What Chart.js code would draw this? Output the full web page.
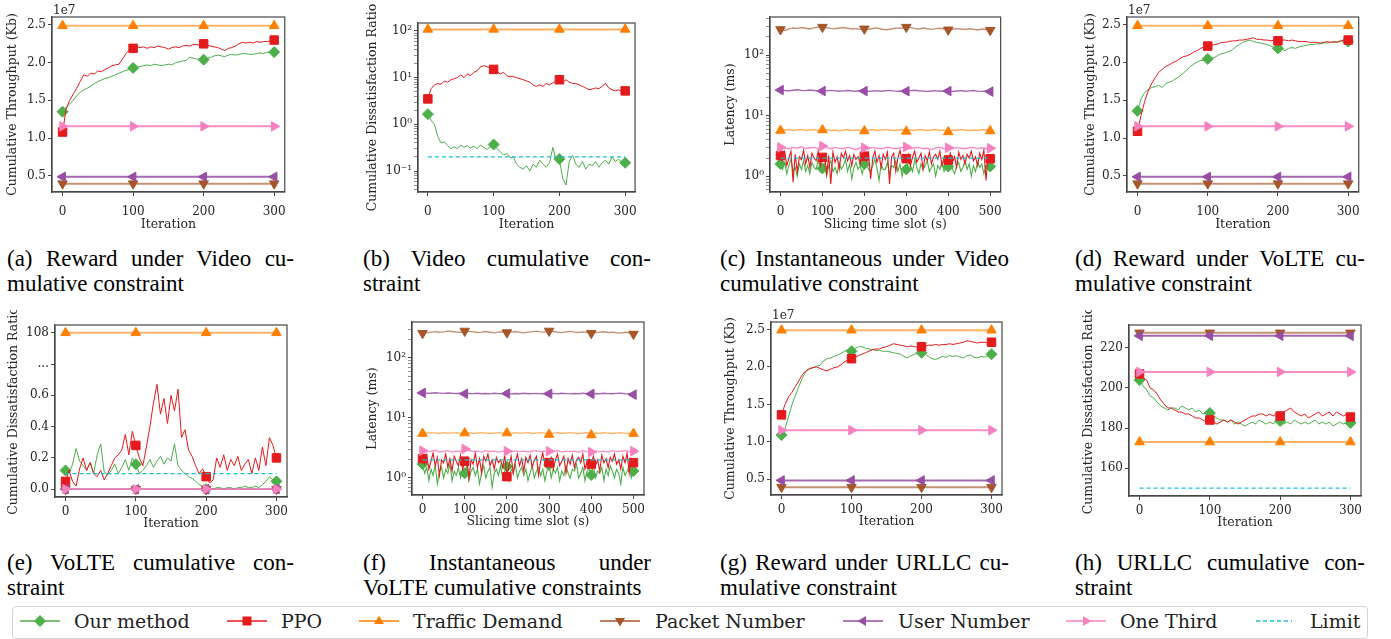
<!DOCTYPE html>
<html><head><meta charset="utf-8">
<script src="https://cdn.jsdelivr.net/npm/chart.js@4.4.1/dist/chart.umd.min.js"></script>
<style>
html,body{margin:0;padding:0;background:#fff;}
body{position:relative;width:1391px;height:639px;overflow:hidden;}
canvas{position:absolute;}
.cap{position:absolute;font-family:"Liberation Serif","Times New Roman",serif;font-size:23px;line-height:25px;color:#000;white-space:nowrap;}
.j{text-align:justify;text-align-last:justify;}
#legendBox{position:absolute;left:12px;top:606px;width:1356px;height:33px;border:1px solid #d3d3d3;border-radius:4px;box-sizing:border-box;background:#fff;}
.lg{position:absolute;top:610px;font-family:"DejaVu Serif",serif;font-size:19px;line-height:22px;color:#222;white-space:nowrap;}
.ls{position:absolute;top:611px;}
</style></head>
<body>
<div class="cap j" style="left:7px;top:246px;width:287px">(a) Reward under Video cu-</div>
<div class="cap" style="left:7px;top:271px">mulative constraint</div>
<div class="cap j" style="left:363px;top:246px;width:288px">(b) Video cumulative con-</div>
<div class="cap" style="left:363px;top:271px">straint</div>
<div class="cap j" style="left:720px;top:246px;width:289px">(c) Instantaneous under Video</div>
<div class="cap" style="left:720px;top:271px">cumulative constraint</div>
<div class="cap j" style="left:1075px;top:246px;width:290px">(d) Reward under VoLTE cu-</div>
<div class="cap" style="left:1075px;top:271px">mulative constraint</div>

<div class="cap j" style="left:7px;top:550px;width:287px">(e) VoLTE cumulative con-</div>
<div class="cap" style="left:7px;top:575px">straint</div>
<div class="cap j" style="left:363px;top:550px;width:288px">(f) Instantaneous under</div>
<div class="cap" style="left:363px;top:575px">VoLTE cumulative constraints</div>
<div class="cap j" style="left:720px;top:550px;width:289px">(g) Reward under URLLC cu-</div>
<div class="cap" style="left:720px;top:575px">mulative constraint</div>
<div class="cap j" style="left:1075px;top:550px;width:290px">(h) URLLC cumulative con-</div>
<div class="cap" style="left:1075px;top:575px">straint</div>

<div id="legendBox"></div>
<svg class="ls" style="left:20px" width="40" height="20"><line x1="0" y1="10" x2="40" y2="10" stroke="#4daf4a" stroke-width="1.6"/><polygon points="20,4 26,10 20,16 14,10" fill="#4daf4a"/></svg>
<div class="lg" style="left:74px">Our method</div>
<svg class="ls" style="left:227px" width="40" height="20"><line x1="0" y1="10" x2="40" y2="10" stroke="#e41a1c" stroke-width="1.6"/><rect x="15.5" y="5.5" width="9" height="9" fill="#e41a1c"/></svg>
<div class="lg" style="left:281px">PPO</div>
<svg class="ls" style="left:359px" width="40" height="20"><line x1="0" y1="10" x2="40" y2="10" stroke="#ff7f00" stroke-width="1.6"/><polygon points="20,4.5 25,13 15,13" fill="#ff7f00"/></svg>
<div class="lg" style="left:413px">Traffic Demand</div>
<svg class="ls" style="left:600px" width="40" height="20"><line x1="0" y1="10" x2="40" y2="10" stroke="#a65628" stroke-width="1.6"/><polygon points="20,15.5 25,7 15,7" fill="#a65628"/></svg>
<div class="lg" style="left:655px">Packet Number</div>
<svg class="ls" style="left:843px" width="40" height="20"><line x1="0" y1="10" x2="40" y2="10" stroke="#984ea3" stroke-width="1.6"/><polygon points="14.5,10 23,5 23,15" fill="#984ea3"/></svg>
<div class="lg" style="left:898px">User Number</div>
<svg class="ls" style="left:1066px" width="40" height="20"><line x1="0" y1="10" x2="40" y2="10" stroke="#f781bf" stroke-width="1.6"/><polygon points="25.5,10 17,5 17,15" fill="#f781bf"/></svg>
<div class="lg" style="left:1120px">One Third</div>
<svg class="ls" style="left:1256px" width="40" height="20"><line x1="0" y1="10" x2="36" y2="10" stroke="#17becf" stroke-width="1.5" stroke-dasharray="4,3"/></svg>
<div class="lg" style="left:1310px">Limit</div>

<script>
// ---------------- DATA ----------------
const iterX = [
0,5,10,15,20,25,30,35,40,45,
50,55,60,65,70,75,80,85,90,95,
100,105,110,115,120,125,130,135,140,145,
150,155,160,165,170,175,180,185,190,195,
200,205,210,215,220,225,230,235,240,245,
250,255,260,265,270,275,280,285,290,295,
300];
const markX = [0,100,200,300];
const slotFineX = [
0,5,10,15,20,25,30,35,40,45,
50,55,60,65,70,75,80,85,90,95,
100,105,110,115,120,125,130,135,140,145,
150,155,160,165,170,175,180,185,190,195,
200,205,210,215,220,225,230,235,240,245,
250,255,260,265,270,275,280,285,290,295,
300,305,310,315,320,325,330,335,340,345,
350,355,360,365,370,375,380,385,390,395,
400,405,410,415,420,425,430,435,440,445,
450,455,460,465,470,475,480,485,490,495,
500];
const slotCoarseX = [
0,10,20,30,40,50,60,70,80,90,
100,110,120,130,140,150,160,170,180,190,
200,210,220,230,240,250,260,270,280,290,
300,310,320,330,340,350,360,370,380,390,
400,410,420,430,440,450,460,470,480,490,
500];
const limitSlotX = [0,500];

// (a) Reward under Video constraint (x1e7 Kb)
const aOurs = [
1.35,1.41,1.45,1.50,1.56,1.61,1.64,1.66,1.69,1.72,
1.75,1.77,1.79,1.80,1.82,1.84,1.86,1.88,1.90,1.91,
1.93,1.94,1.95,1.96,1.97,1.96,1.98,1.97,1.96,1.97,
1.98,1.97,2.00,2.01,2.02,2.03,2.07,2.06,2.05,2.04,
2.04,2.06,2.07,2.09,2.10,2.09,2.08,2.10,2.11,2.10,
2.11,2.12,2.12,2.11,2.11,2.12,2.13,2.12,2.14,2.13,
2.14];
const aPPO = [
1.08,1.38,1.50,1.58,1.66,1.75,1.84,1.82,1.86,1.85,
1.89,1.88,1.91,1.93,1.96,1.97,1.98,2.05,2.12,2.17,
2.19,2.21,2.20,2.21,2.19,2.21,2.20,2.22,2.21,2.20,
2.18,2.20,2.21,2.20,2.22,2.23,2.22,2.24,2.24,2.23,
2.25,2.23,2.22,2.21,2.20,2.18,2.16,2.19,2.20,2.22,
2.25,2.27,2.26,2.27,2.26,2.28,2.27,2.28,2.28,2.29,
2.30];
const thrTraffic = [2.49,2.49,2.49,2.49];
const thrPacket  = [0.395,0.395,0.395,0.395];
const thrUser    = [0.485,0.485,0.485,0.485];
const thrThird   = [1.155,1.155,1.155,1.155];

// (b) Video cumulative dissatisfaction ratio (log)
const bOurs = [
1.65,1.20,1.00,0.55,0.40,0.42,0.35,0.30,0.33,0.30,
0.36,0.32,0.35,0.31,0.34,0.30,0.36,0.32,0.29,0.33,
0.37,0.30,0.26,0.22,0.24,0.19,0.20,0.14,0.12,0.11,
0.13,0.10,0.14,0.12,0.17,0.14,0.12,0.15,0.32,0.17,
0.18,0.07,0.05,0.16,0.22,0.14,0.12,0.16,0.11,0.14,
0.13,0.16,0.12,0.15,0.17,0.14,0.20,0.16,0.18,0.15,
0.15];
const bPPO = [
3.5,5.8,7.0,7.5,7.2,8.5,8.0,9.0,9.5,10.0,
11.5,10.0,12.0,11.0,13.0,14.0,17.0,18.0,17.0,16.5,
15.0,13.5,12.0,13.0,11.0,10.5,10.5,10.0,9.5,9.0,
8.5,8.0,7.0,6.5,7.0,6.5,7.5,7.0,7.8,8.5,
9.0,8.0,9.0,8.0,7.5,7.5,7.0,6.5,6.0,5.5,
5.7,6.0,5.8,6.5,7.5,6.0,5.5,5.2,5.5,5.0,
5.2];
const bTraffic = [108,108,108,108];
const bLimit = [0.2,0.2,0.2,0.2];

// (c) Instantaneous latency under Video constraint (ms)
const cOurs = [
1.60,1.30,1.70,1.10,1.50,1.90,1.20,1.40,1.00,1.60,
1.30,1.80,1.20,1.50,1.10,1.70,1.40,1.30,1.90,1.20,
1.35,1.60,1.00,1.50,1.80,1.20,1.40,1.10,1.70,1.30,
1.50,1.90,1.20,1.60,0.90,1.40,1.70,1.30,1.50,1.10,
1.60,1.80,1.30,1.20,1.50,1.90,1.40,0.85,1.60,1.30,
1.30,1.70,1.10,1.50,1.40,1.80,1.20,1.60,1.00,1.40,
1.30,1.70,1.50,1.20,1.90,1.40,1.10,1.60,1.30,1.50,
1.80,1.20,1.40,1.60,1.00,1.50,1.30,1.70,1.20,1.60,
1.45,1.90,1.30,1.10,1.50,1.70,1.20,1.40,1.80,1.30,
1.60,1.00,1.50,1.20,1.70,1.40,1.60,1.10,1.50,1.30,
1.45];
const cPPO = [
2.20,1.80,2.50,1.50,2.00,2.60,0.80,2.30,1.20,2.10,
1.90,2.70,1.60,2.20,1.40,2.40,2.00,1.80,2.60,1.50,
2.05,2.30,1.10,2.20,0.75,2.50,1.70,2.10,1.30,2.40,
2.00,2.60,1.80,2.20,1.50,2.30,1.90,2.10,1.60,2.50,
2.15,1.80,2.40,0.90,2.00,2.60,1.70,2.20,1.40,2.30,
1.90,2.50,0.75,2.10,2.40,1.20,2.00,2.70,1.80,2.20,
1.95,2.30,1.50,2.10,2.60,1.70,2.00,2.40,1.30,2.20,
1.80,2.50,1.60,2.10,2.30,1.90,2.60,1.50,2.00,2.20,
1.85,2.40,1.70,2.10,1.40,2.50,1.90,2.20,1.60,2.30,
2.00,2.60,1.80,2.10,1.50,2.40,1.90,2.70,0.85,2.20,
1.95];
const cPacket = [
265,255,272,280,276,285,278,270,282,288,
290,283,276,272,280,285,278,270,274,268,
272,266,275,280,270,262,268,275,282,278,
290,284,276,270,280,272,266,274,278,270,
262,268,274,270,265,272,268,260,270,265,
258];
const cUser = [
26.5,26.0,25.8,26.3,26.8,26.2,25.9,26.5,26.1,25.7,
25.5,25.8,26.2,25.9,25.4,25.7,26.0,25.6,25.3,25.8,
25.5,25.2,25.6,25.9,25.4,25.8,26.2,25.7,25.3,25.6,
25.4,25.9,26.3,25.8,25.5,25.2,25.6,25.9,25.3,25.7,
25.5,25.1,25.6,25.9,25.4,25.7,26.0,25.5,25.2,25.6,
25.0];
const cTraffic = [
5.7,5.8,5.9,5.7,5.8,5.9,5.7,5.8,5.9,5.7,
5.8,5.9,5.7,5.8,5.6,5.8,5.9,5.7,5.8,5.7,
5.6,5.8,5.9,5.7,5.8,5.9,5.8,5.7,5.8,5.9,
5.5,5.8,5.7,5.9,5.8,5.7,5.8,5.9,5.7,5.8,
5.4,5.8,5.7,5.9,5.8,5.7,5.8,5.7,5.9,5.8,
5.6];
const cThird = [
3.0,2.9,2.85,3.0,2.9,3.1,2.85,2.95,3.0,2.85,
3.15,2.95,2.85,3.0,2.9,2.85,3.0,2.9,2.75,2.95,
2.95,2.85,3.0,2.9,2.85,2.95,3.0,2.85,2.9,3.0,
3.05,2.85,2.95,3.0,2.85,2.9,2.75,2.95,3.0,2.85,
2.95,2.85,3.0,2.9,2.85,2.95,3.0,2.85,2.95,2.85,
2.9];
const latLimit = [2.0,2.0];

// (d) Reward under VoLTE constraint (x1e7 Kb)
const dOurs = [
1.36,1.52,1.60,1.64,1.67,1.68,1.70,1.67,1.72,1.74,
1.76,1.79,1.82,1.86,1.90,1.95,1.98,2.01,2.03,2.03,
2.05,2.06,2.07,2.10,2.12,2.13,2.15,2.17,2.21,2.24,
2.27,2.29,2.30,2.28,2.27,2.26,2.25,2.24,2.22,2.20,
2.19,2.18,2.16,2.19,2.20,2.19,2.21,2.22,2.23,2.24,
2.24,2.25,2.25,2.26,2.26,2.27,2.27,2.28,2.29,2.31,
2.28];
const dPPO = [
1.09,1.30,1.48,1.62,1.72,1.80,1.87,1.91,1.95,1.97,
2.00,2.02,2.05,2.08,2.09,2.11,2.14,2.16,2.19,2.21,
2.22,2.23,2.24,2.25,2.27,2.27,2.28,2.29,2.29,2.30,
2.30,2.31,2.32,2.33,2.31,2.31,2.30,2.30,2.29,2.30,
2.29,2.30,2.30,2.29,2.30,2.29,2.28,2.28,2.28,2.27,
2.27,2.27,2.26,2.27,2.28,2.27,2.28,2.27,2.29,2.30,
2.30];

// (e) VoLTE cumulative dissatisfaction ratio (broken axis: position 1.0 shows 108)
const eOurs = [
0.12,0.10,0.16,0.26,0.18,0.15,0.12,0.17,0.10,0.22,
0.29,0.11,0.09,0.12,0.16,0.10,0.14,0.19,0.12,0.20,
0.16,0.10,0.12,0.15,0.19,0.14,0.18,0.21,0.16,0.20,
0.18,0.29,0.15,0.12,0.10,0.08,0.07,0.05,0.03,0.02,
0.00,0.01,0.00,0.01,0.01,0.00,0.01,0.01,0.00,0.01,
0.01,0.02,0.01,0.01,0.02,0.01,0.03,0.05,0.08,0.06,
0.05];
const ePPO = [
0.05,0.12,0.05,0.02,0.13,0.20,0.12,0.17,0.10,0.08,
0.12,0.06,0.10,0.15,0.20,0.22,0.25,0.35,0.22,0.37,
0.28,0.20,0.15,0.27,0.40,0.55,0.67,0.48,0.58,0.42,
0.60,0.50,0.64,0.33,0.38,0.25,0.21,0.15,0.10,0.13,
0.08,0.04,0.06,0.20,0.14,0.22,0.12,0.19,0.15,0.21,
0.12,0.16,0.19,0.10,0.20,0.12,0.27,0.15,0.33,0.28,
0.20];
const eTrafficPos = [1,1,1,1];
const eZero = [0,0,0,0];
const eLimit = [0.1,0.1,0.1,0.1];
const eYTicks = [0,0.2,0.4,0.6,0.8,1.0];
const eYLabels = ['0.0','0.2','0.4','0.6','...','108'];

// (f) Instantaneous latency under VoLTE constraints (ms)
const fOurs = [
1.70,1.20,1.50,0.90,1.40,1.10,1.60,0.80,1.30,1.50,
1.00,1.40,1.20,1.70,0.90,1.30,1.10,1.50,1.00,1.40,
1.20,1.60,0.90,1.30,1.50,1.10,1.40,0.80,1.20,1.60,
1.00,1.30,1.50,0.70,1.20,1.40,1.10,1.60,1.00,1.30,
1.55,0.90,1.40,1.20,1.70,1.00,1.30,1.50,1.10,1.40,
0.90,1.20,1.60,1.00,1.30,1.50,1.10,1.40,0.90,1.30,
1.65,1.00,1.40,1.20,1.50,0.90,1.30,1.10,1.60,1.20,
1.00,1.40,1.30,1.70,1.00,1.20,1.50,0.90,1.30,1.40,
1.12,1.60,1.00,1.30,1.20,1.50,0.90,1.40,1.10,1.60,
1.30,1.00,1.40,1.20,0.80,1.50,1.10,1.30,1.60,1.00,
1.31];
const fPPO = [
2.10,1.70,2.40,1.40,1.90,2.60,1.60,2.20,1.10,2.00,
1.80,2.50,1.50,2.10,1.30,2.30,1.90,1.60,2.40,1.40,
1.90,2.20,1.00,2.00,1.70,2.60,1.50,2.10,1.20,2.30,
1.90,2.50,1.60,2.00,1.40,2.20,1.80,2.00,1.50,2.40,
1.05,1.60,2.30,1.20,1.90,2.50,1.60,2.10,1.30,2.20,
1.80,2.40,1.50,2.00,2.30,1.10,1.90,2.60,1.70,2.10,
1.80,2.20,1.40,2.00,2.50,1.60,1.90,2.30,1.20,2.10,
1.70,2.40,1.50,2.00,2.20,1.80,2.50,1.40,1.90,2.10,
1.70,2.30,1.60,2.00,1.30,2.40,1.80,2.10,1.50,2.20,
1.90,2.50,1.70,2.00,1.40,2.30,1.80,2.60,1.20,2.10,
1.80];
const fPacket = [
258,262,270,275,268,272,280,276,270,268,
282,278,272,266,270,276,268,262,270,274,
265,270,276,268,262,270,275,280,272,270,
282,276,270,265,272,278,270,266,272,268,
259,265,270,274,266,270,264,260,268,262,
251];
const fUser = [
26.2,26.0,25.8,26.3,26.0,25.7,26.1,25.8,25.6,25.9,
25.3,25.7,25.5,25.9,25.4,25.6,25.2,25.8,25.5,25.3,
25.5,25.2,25.6,25.4,25.8,25.3,25.5,25.7,25.2,25.6,
25.3,25.7,25.4,25.8,25.5,25.2,25.6,25.4,25.9,25.3,
25.2,25.6,25.4,25.8,25.5,25.3,25.7,26.0,25.4,25.2,
24.5];
const fTraffic = [
5.5,5.6,5.7,5.6,5.5,5.7,5.6,5.6,5.7,5.5,
5.6,5.7,5.5,5.6,5.7,5.6,5.5,5.6,5.7,5.6,
5.6,5.5,5.7,5.6,5.6,5.7,5.5,5.6,5.7,5.6,
5.3,5.6,5.7,5.5,5.6,5.7,5.6,5.5,5.6,5.7,
5.2,5.6,5.5,5.7,5.6,5.5,5.6,5.7,5.6,5.5,
5.5];
const fThird = [
2.85,2.75,2.8,2.9,2.7,2.8,2.85,2.7,2.8,2.75,
3.05,2.9,2.75,2.8,2.7,2.85,2.75,2.8,2.7,2.8,
2.8,2.7,2.85,2.75,2.8,2.7,2.8,2.85,2.75,2.8,
2.8,2.75,2.85,2.7,2.8,2.75,2.8,2.7,2.85,2.75,
2.7,2.8,2.75,2.8,2.7,2.85,2.75,2.8,2.85,2.75,
2.8];

// (g) Reward under URLLC constraint (x1e7 Kb)
const gOurs = [
1.09,1.18,1.33,1.50,1.62,1.74,1.86,1.94,1.97,1.99,
2.01,2.02,2.08,2.11,2.12,2.14,2.16,2.18,2.21,2.23,
2.21,2.25,2.27,2.27,2.25,2.24,2.23,2.22,2.22,2.21,
2.21,2.20,2.19,2.18,2.17,2.14,2.12,2.15,2.17,2.18,
2.19,2.17,2.14,2.11,2.10,2.12,2.14,2.13,2.15,2.14,
2.15,2.13,2.12,2.15,2.16,2.13,2.12,2.14,2.13,2.15,
2.17];
const gPPO = [
1.36,1.50,1.60,1.66,1.74,1.82,1.90,1.95,1.98,1.99,
2.00,1.98,1.96,1.95,1.97,1.99,2.00,2.03,2.07,2.09,
2.11,2.13,2.15,2.17,2.19,2.21,2.23,2.24,2.24,2.26,
2.27,2.29,2.31,2.30,2.29,2.28,2.27,2.28,2.27,2.26,
2.27,2.28,2.29,2.29,2.30,2.29,2.30,2.30,2.31,2.30,
2.31,2.32,2.33,2.35,2.34,2.33,2.32,2.33,2.33,2.32,
2.33];

// (h) URLLC cumulative dissatisfaction ratio
const hOurs = [
204,201,199,196,195,193,191,190,189,190,
190,189,191,190,189,190,188,189,187,188,
187.5,186,185,184,184,183,184,182,183,182,
181,182,183,182,184,183,182,183,182,184,
183.5,182,183,182,184,183,182,183,182,183,
184,182,183,182,183,181,182,183,182,183,
182.5];
const hPPO = [
207,205,204,200,199,197,194,192,190,190,
189,188,188,187,187,186,185,185,184,183,
184,183,182,183,184,183,184,183,182,183,
184,185,186,186,187,187,186,187,186,187,
186,188,189,190,188,187,186,187,185,186,
187,188,186,187,188,186,188,187,186,187,
185.5];
const hTraffic = [173,173,173,173];
const hPacket  = [227.5,227.5,227.5,227.5];
const hUser    = [226,226,226,226];
const hThird   = [208,208,208,208];
const hLimit   = [150,150,150,150];

// tick values / labels
const iterTicks = [0,100,200,300];
const slotTicks = [0,100,200,300,400,500];
const thrTicks = [0.5,1.0,1.5,2.0,2.5];
const thrLabels = ['0.5','1.0','1.5','2.0','2.5'];
const hTicks = [160,180,200,220];
const hLabels = ['160','180','200','220'];
const logMajors = [0.1,1,10,100];
const logMajorLabels = ['10\u207B\u00B9','10\u2070','10\u00B9','10\u00B2'];
const bLogTicks = [0.04,0.05,0.06,0.07,0.08,0.09,0.1,0.2,0.3,0.4,0.5,0.6,0.7,0.8,0.9,1,2,3,4,5,6,7,8,9,10,20,30,40,50,60,70,80,90,100];
const cLogTicks = [0.6,0.7,0.8,0.9,1,2,3,4,5,6,7,8,9,10,20,30,40,50,60,70,80,90,100,200,300,400];
const fLogTicks = [0.6,0.7,0.8,0.9,1,2,3,4,5,6,7,8,9,10,20,30,40,50,60,70,80,90,100,200,300];

// ---------------- STYLE ----------------
const TXT = '#262626', AX = '#474747';
const COLORS = {ours:'#4daf4a', ppo:'#e41a1c', traffic:'#ff7f00', packet:'#a65628', user:'#984ea3', third:'#f781bf', limit:'#17becf'};
const LINES = {ours:'#4daf4a', ppo:'#e41a1c', traffic:'rgba(255,127,0,0.6)', packet:'rgba(166,86,40,0.65)', user:'rgba(152,78,163,0.85)', third:'rgba(247,129,191,0.9)', limit:'#17becf'};
const MARK = {ours:['rectRot',5.5,0], ppo:['rect',6,0], traffic:['triangle',5.5,0], packet:['triangle',5.5,180], user:['triangle',5.5,270], third:['triangle',5.5,90], limit:['circle',0,0]};
const ORDER = {ours:6, ppo:5, traffic:4, packet:3, user:2, third:1, limit:0};

function ds(key, xs, ys, bw){
  const m = MARK[key];
  return {
    label:key,
    data: xs.map((x,i)=>({x:x, y:ys[i]})),
    borderColor: LINES[key],
    borderWidth: bw,
    borderDash: key==='limit' ? [4,3] : [],
    pointStyle: m[0],
    pointRotation: m[2],
    pointBackgroundColor: COLORS[key],
    pointBorderColor: COLORS[key],
    pointBorderWidth: 1,
    pointRadius: key==='limit' ? 0 : (c => (c.raw && c.raw.x % 100 === 0) ? m[1] : 0),
    pointHoverRadius: 0,
    pointHitRadius: 0,
    tension: 0,
    fill: false,
    order: ORDER[key]
  };
}
function thrSets(ours, ppo){
  return [ds('ours',iterX,ours,1), ds('ppo',iterX,ppo,1),
          ds('traffic',markX,thrTraffic,2), ds('packet',markX,thrPacket,2),
          ds('user',markX,thrUser,2), ds('third',markX,thrThird,2)];
}
function logLabels(ticks){
  return ticks.map(v => { const k = logMajors.findIndex(mj => Math.abs(mj - v) / mj < 1e-9); return k >= 0 ? logMajorLabels[k] : ''; });
}

const frame = {id:'frame', afterDraw(chart, args, opts){
  const {ctx, chartArea:a} = chart;
  ctx.save();
  ctx.strokeStyle = AX; ctx.lineWidth = 1.2;
  ctx.strokeRect(a.left, a.top, a.right - a.left, a.bottom - a.top);
  if (opts.offsetText){
    ctx.font = '12px "DejaVu Serif"'; ctx.fillStyle = TXT;
    ctx.textAlign = 'left'; ctx.textBaseline = 'alphabetic';
    ctx.fillText(opts.offsetText, a.left + 1, a.top - 3);
  }
  ctx.restore();
}};

function panel(p){
  const YW = 62, PR = 8, XH = 42;
  const w = (p.R - p.L) + YW + PR, h = p.B + XH - p.top;
  const cv = document.createElement('canvas');
  cv.width = w; cv.height = h;
  cv.style.left = (p.L - YW) + 'px'; cv.style.top = p.top + 'px';
  cv.style.width = w + 'px'; cv.style.height = h + 'px';
  document.body.appendChild(cv);
  const font = {family:'DejaVu Serif', size:12};
  const tfont = {family:'DejaVu Serif', size:12.5};
  const majorSet = p.yType === 'logarithmic' ? logMajors : null;
  const isMajor = v => !majorSet || majorSet.some(mj => Math.abs(mj - v) / mj < 1e-9);
  new Chart(cv, {
    type:'line',
    data:{datasets:p.datasets},
    options:{
      responsive:false, animation:false, devicePixelRatio:1, events:[],
      layout:{padding:{top:p.T - p.top, right:PR, left:0, bottom:0}},
      plugins:{legend:{display:false}, tooltip:{enabled:false}, frame:{offsetText:p.offsetText || ''}},
      scales:{
        x:{type:'linear', min:p.xMin, max:p.xMax,
          afterBuildTicks:s => { s.ticks = p.xTicks.map(v => ({value:v})); },
          afterFit:s => { s.height = XH; },
          ticks:{autoSkip:false, maxRotation:0, minRotation:0, font:font, color:TXT, padding:p.xPad, callback:v => String(v)},
          grid:{display:true, drawOnChartArea:false, drawTicks:true, tickLength:4, tickColor:AX, tickWidth:1},
          border:{display:true, color:AX, width:1.2},
          title:{display:true, text:p.xTitle, font:tfont, color:TXT, padding:{top:0, bottom:Math.max(0, XH - 7.5 - p.xOff)}}
        },
        y:{type:p.yType, min:p.yMin, max:p.yMax,
          afterBuildTicks:s => { s.ticks = p.yTicks.map(v => ({value:v})); },
          afterFit:s => { s.width = YW; },
          ticks:{autoSkip:false, font:font, color:TXT, padding:2, callback:(v,i) => p.yLabels[i]},
          grid:{display:true, drawOnChartArea:false, drawTicks:true, tickLength:4, tickColor:AX,
                tickWidth:c => (c.tick && isMajor(c.tick.value)) ? 1 : 0.6},
          border:{display:true, color:AX, width:1.2},
          title:{display:true, text:p.yTitle, font:tfont, color:TXT, padding:{top:YW - p.yOff - 7.5, bottom:0}}
        }
      }
    },
    plugins:[frame]
  });
}

const latSets = (ours, ppo, pk, us, tr, th) => [
  ds('ours',slotFineX,ours,1.1), ds('ppo',slotFineX,ppo,1.1),
  ds('traffic',slotCoarseX,tr,1.4), ds('packet',slotCoarseX,pk,1.4),
  ds('user',slotCoarseX,us,1.4), ds('third',slotCoarseX,th,1.4),
  ds('limit',limitSlotX,latLimit,1.2)];

const row1 = {top:0, xPad:9, xOff:33};
const row2 = {top:310, xPad:4, xOff:27};

// (a)
panel(Object.assign({}, row1, {L:52,T:17,R:287,B:192, yOff:39, xMin:-15, xMax:315, xTicks:iterTicks, xTitle:'Iteration',
  yType:'linear', yMin:0.284, yMax:2.606, yTicks:thrTicks, yLabels:thrLabels, yTitle:'Cumulative Throughput (Kb)', offsetText:'1e7',
  datasets:thrSets(aOurs,aPPO)}));
// (b)
panel(Object.assign({}, row1, {L:418,T:23,R:638,B:192, yOff:45, xMin:-15, xMax:315, xTicks:iterTicks, xTitle:'Iteration',
  yType:'logarithmic', yMin:0.0355, yMax:148, yTicks:bLogTicks, yLabels:logLabels(bLogTicks), yTitle:'Cumulative Dissatisfaction Ratio',
  datasets:[ds('ours',iterX,bOurs,1), ds('ppo',iterX,bPPO,1), ds('traffic',markX,bTraffic,2), ds('limit',markX,bLimit,1.2)]}));
// (c)
panel(Object.assign({}, row1, {L:770,T:17,R:1003,B:192, yOff:39, xMin:-25, xMax:525, xTicks:slotTicks, xTitle:'Slicing time slot (s)',
  yType:'logarithmic', yMin:0.55, yMax:426, yTicks:cLogTicks, yLabels:logLabels(cLogTicks), yTitle:'Latency (ms)',
  datasets:latSets(cOurs,cPPO,cPacket,cUser,cTraffic,cThird)}));
// (d)
panel(Object.assign({}, row1, {L:1127,T:17,R:1361,B:192, yOff:36, xMin:-15, xMax:315, xTicks:iterTicks, xTitle:'Iteration',
  yType:'linear', yMin:0.284, yMax:2.606, yTicks:thrTicks, yLabels:thrLabels, yTitle:'Cumulative Throughput (Kb)', offsetText:'1e7',
  datasets:thrSets(dOurs,dPPO)}));
// (e)
panel(Object.assign({}, row2, {L:55,T:325,R:287,B:497, yOff:41, xMin:-15, xMax:315, xTicks:iterTicks, xTitle:'Iteration',
  yType:'linear', yMin:-0.05, yMax:1.05, yTicks:eYTicks, yLabels:eYLabels, yTitle:'Cumulative Dissatisfaction Ratio',
  datasets:[ds('ours',iterX,eOurs,1), ds('ppo',iterX,ePPO,1), ds('traffic',markX,eTrafficPos,2),
            ds('packet',markX,eZero,1.5), ds('user',markX,eZero,1.5), ds('third',markX,eZero,1.5), ds('limit',markX,eLimit,1.2)]}));
// (f)
panel(Object.assign({}, row2, {L:412,T:322,R:644,B:495, yOff:39, xMin:-25, xMax:525, xTicks:slotTicks, xTitle:'Slicing time slot (s)',
  yType:'logarithmic', yMin:0.52, yMax:398, yTicks:fLogTicks, yLabels:logLabels(fLogTicks), yTitle:'Latency (ms)',
  datasets:latSets(fOurs,fPPO,fPacket,fUser,fTraffic,fThird)}));
// (g)
panel(Object.assign({}, row2, {top:298, L:771,T:322,R:1002,B:495, yOff:40, xMin:-15, xMax:315, xTicks:iterTicks, xTitle:'Iteration',
  yType:'linear', yMin:0.29, yMax:2.6, yTicks:thrTicks, yLabels:thrLabels, yTitle:'Cumulative Throughput (Kb)', offsetText:'1e7',
  datasets:thrSets(gOurs,gPPO)}));
// (h)
panel(Object.assign({}, row2, {L:1129,T:325,R:1361,B:496, yOff:40, xMin:-15, xMax:315, xTicks:iterTicks, xTitle:'Iteration',
  yType:'linear', yMin:146.1, yMax:231.4, yTicks:hTicks, yLabels:hLabels, yTitle:'Cumulative Dissatisfaction Ratio',
  datasets:[ds('ours',iterX,hOurs,1), ds('ppo',iterX,hPPO,1), ds('traffic',markX,hTraffic,2),
            ds('packet',markX,hPacket,2), ds('user',markX,hUser,2), ds('third',markX,hThird,2), ds('limit',markX,hLimit,1.2)]}));
</script>
</body></html>
